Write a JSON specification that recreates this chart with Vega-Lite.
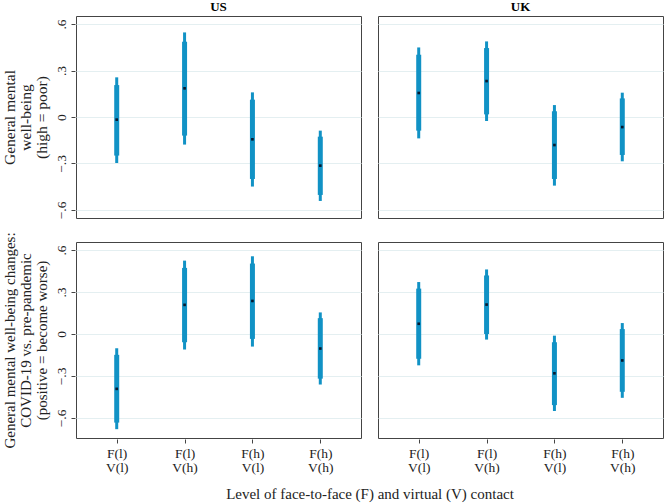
{
  "$schema": "https://vega.github.io/schema/vega-lite/v6.json",
  "padding": {"left": 2, "top": 1, "right": 2, "bottom": 2},
  "background": "white",
  "datasets": {
    "wb": [
      {"country": "US", "contact": "F(l) V(l)", "est": -0.017, "lo95": -0.297, "hi95": 0.256, "lo90": -0.249, "hi90": 0.206},
      {"country": "US", "contact": "F(l) V(h)", "est": 0.185, "lo95": -0.178, "hi95": 0.546, "lo90": -0.12, "hi90": 0.486},
      {"country": "US", "contact": "F(h) V(l)", "est": -0.144, "lo95": -0.449, "hi95": 0.159, "lo90": -0.4, "hi90": 0.112},
      {"country": "US", "contact": "F(h) V(h)", "est": -0.314, "lo95": -0.542, "hi95": -0.088, "lo90": -0.503, "hi90": -0.127},
      {"country": "UK", "contact": "F(l) V(l)", "est": 0.155, "lo95": -0.138, "hi95": 0.449, "lo90": -0.088, "hi90": 0.402},
      {"country": "UK", "contact": "F(l) V(h)", "est": 0.232, "lo95": -0.026, "hi95": 0.488, "lo90": 0.017, "hi90": 0.445},
      {"country": "UK", "contact": "F(h) V(l)", "est": -0.181, "lo95": -0.443, "hi95": 0.077, "lo90": -0.4, "hi90": 0.037},
      {"country": "UK", "contact": "F(h) V(h)", "est": -0.065, "lo95": -0.286, "hi95": 0.157, "lo90": -0.245, "hi90": 0.12}
    ],
    "chg": [
      {"country": "US", "contact": "F(l) V(l)", "est": -0.392, "lo95": -0.68, "hi95": -0.102, "lo90": -0.633, "hi90": -0.149},
      {"country": "US", "contact": "F(l) V(h)", "est": 0.208, "lo95": -0.111, "hi95": 0.524, "lo90": -0.059, "hi90": 0.472},
      {"country": "US", "contact": "F(h) V(l)", "est": 0.236, "lo95": -0.09, "hi95": 0.555, "lo90": -0.035, "hi90": 0.503},
      {"country": "US", "contact": "F(h) V(h)", "est": -0.104, "lo95": -0.361, "hi95": 0.154, "lo90": -0.319, "hi90": 0.113},
      {"country": "UK", "contact": "F(l) V(l)", "est": 0.073, "lo95": -0.224, "hi95": 0.371, "lo90": -0.177, "hi90": 0.324},
      {"country": "UK", "contact": "F(l) V(h)", "est": 0.21, "lo95": -0.04, "hi95": 0.461, "lo90": 0.0, "hi90": 0.418},
      {"country": "UK", "contact": "F(h) V(l)", "est": -0.281, "lo95": -0.55, "hi95": -0.012, "lo90": -0.508, "hi90": -0.059},
      {"country": "UK", "contact": "F(h) V(h)", "est": -0.189, "lo95": -0.456, "hi95": 0.078, "lo90": -0.413, "hi90": 0.035}
    ]
  },
  "vconcat": [
    {
      "data": {"name": "wb"},
      "facet": {
        "column": {
          "field": "country", "type": "nominal", "sort": ["US", "UK"],
          "header": {"title": null, "labelFontWeight": "bold", "labelFontSize": 13, "labelFont": "Liberation Serif", "labelPadding": 1}
        }
      },
      "spec": {
        "width": 285,
        "height": 202,
        "encoding": {
          "x": {
            "field": "contact", "type": "nominal",
            "sort": ["F(l) V(l)", "F(l) V(h)", "F(h) V(l)", "F(h) V(h)"],
            "scale": {"type": "point", "padding": 0.6},
            "axis": null
          }
        },
        "layer": [
          {
            "mark": {"type": "rule", "strokeWidth": 3, "color": "#1192c5"},
            "encoding": {
              "y": {
                "field": "lo95", "type": "quantitative",
                "scale": {"domain": [-0.652, 0.652], "nice": false, "zero": false},
                "axis": {
                  "title": ["General mental", "well-being", "(high = poor)"],
                  "titleFontSize": 15.5,
                  "values": [-0.6, -0.3, 0, 0.3, 0.6]
                }
              },
              "y2": {"field": "hi95"}
            }
          },
          {
            "mark": {"type": "rule", "strokeWidth": 5, "color": "#1192c5"},
            "encoding": {"y": {"field": "lo90", "type": "quantitative"}, "y2": {"field": "hi90"}}
          },
          {
            "mark": {"type": "square", "size": 7, "filled": true, "color": "#06182e", "opacity": 1},
            "encoding": {"y": {"field": "est", "type": "quantitative"}}
          }
        ]
      },
      "spacing": 15
    },
    {
      "data": {"name": "chg"},
      "facet": {
        "column": {
          "field": "country", "type": "nominal", "sort": ["US", "UK"],
          "header": {
            "labels": false, "labelPadding": 0,
            "title": "Level of face-to-face (F) and virtual (V) contact",
            "titleOrient": "bottom",
            "titleFont": "Liberation Serif", "titleFontSize": 15, "titleFontWeight": "normal",
            "titleColor": "#222", "titlePadding": 3
          }
        }
      },
      "spec": {
        "width": 285,
        "height": 196,
        "encoding": {
          "x": {
            "field": "contact", "type": "nominal",
            "sort": ["F(l) V(l)", "F(l) V(h)", "F(h) V(l)", "F(h) V(h)"],
            "scale": {"type": "point", "padding": 0.6},
            "axis": {
              "title": null, "labelAngle": 0, "grid": false,
              "labelExpr": "split(datum.label, ' ')", "labelLineHeight": 14
            }
          }
        },
        "layer": [
          {
            "mark": {"type": "rule", "strokeWidth": 3, "color": "#1192c5"},
            "encoding": {
              "y": {
                "field": "lo95", "type": "quantitative",
                "scale": {"domain": [-0.743, 0.657], "nice": false, "zero": false},
                "axis": {
                  "title": ["General mental well-being changes:", "COVID-19 vs. pre-pandemic", "(positive = become worse)"],
                  "values": [-0.6, -0.3, 0, 0.3, 0.6]
                }
              },
              "y2": {"field": "hi95"}
            }
          },
          {
            "mark": {"type": "rule", "strokeWidth": 5, "color": "#1192c5"},
            "encoding": {"y": {"field": "lo90", "type": "quantitative"}, "y2": {"field": "hi90"}}
          },
          {
            "mark": {"type": "square", "size": 7, "filled": true, "color": "#06182e", "opacity": 1},
            "encoding": {"y": {"field": "est", "type": "quantitative"}}
          }
        ]
      },
      "spacing": 15
    }
  ],
  "spacing": 12,
  "config": {
    "font": "Liberation Serif",
    "view": {"stroke": "#444", "strokeWidth": 1},
    "axis": {
      "labelFont": "Liberation Serif", "labelFontSize": 13.5, "labelColor": "#222",
      "titleFont": "Liberation Serif", "titleFontSize": 15, "titleFontWeight": "normal", "titleColor": "#222",
      "tickColor": "#444", "tickSize": 4, "domain": false
    },
    "axisY": {
      "labelAngle": -90, "labelAlign": "center", "labelBaseline": "bottom", "labelPadding": 3,
      "labelExpr": "datum.value == 0 ? '0' : replace(replace(format(datum.value, '.1f'), '0.', '.'), '-', '\u2212')",
      "grid": true, "gridColor": "#e4eff1", "gridWidth": 1,
      "titleLineHeight": 16, "titlePadding": 5
    },
    "axisX": {"labelPadding": 3}
  }
}
